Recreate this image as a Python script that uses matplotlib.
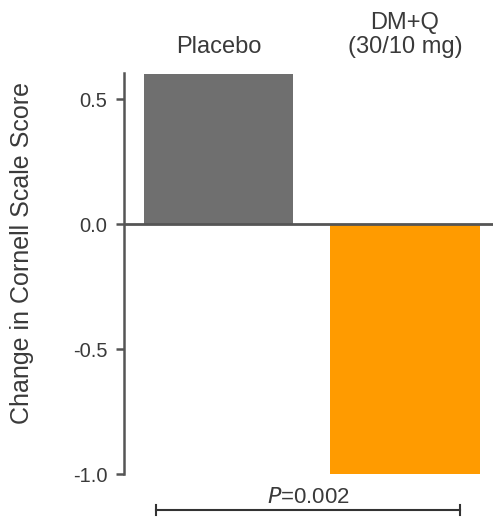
import matplotlib
matplotlib.use("Agg")
import matplotlib.pyplot as plt

categories = ["Placebo", "DM+Q\n(30/10 mg)"]
values = [0.6, -1.0]
colors = ["#6f6f6f", "#ff9b00"]
yticks = [-1.0, -0.5, 0.0, 0.5]
ytick_labels = ["-1.0", "-0.5", "0.0", "0.5"]
ylabel = "Change in Cornell Scale Score"
pval = "0.002"

plt.rcParams['font.family'] = ['Liberation Sans', 'DejaVu Sans']
txt = "#3a3a3a"

fig = plt.figure(figsize=(4.93, 5.21), dpi=100)
ax = fig.add_axes([124/493, 1-474/521, (493-124)/493, (474-73)/521])

x = list(range(len(categories)))
ax.bar(x, values, width=0.8, color=colors, zorder=2)
ax.set_xlim(-0.507, 1.472)
ax.set_ylim(-1.0, 0.604)
ax.axhline(0, color="#555555", lw=2, zorder=3)

for s in ["top", "right", "bottom"]:
    ax.spines[s].set_visible(False)
ax.spines["left"].set_color("#555555")
ax.spines["left"].set_linewidth(1.8)
ax.set_xticks([])
ax.set_yticks(yticks)
ax.set_yticklabels(ytick_labels, fontsize=14.5, color=txt)
ax.tick_params(axis="y", direction="out", length=6, width=1.8, color="#555555", pad=6)
ax.set_ylabel(ylabel, fontsize=18, color=txt)
ax.yaxis.set_label_coords(-0.243, 0.55)

for xi, lab in zip(x, categories):
    ax.text(xi, 0.665, lab, ha="center", va="bottom", fontsize=17, color=txt,
            clip_on=False, linespacing=1.1)

# significance bracket
yb = -1.144
ax.plot([-0.335, 1.295], [yb, yb], color="#333333", lw=1.5, clip_on=False)
for xe in [-0.335, 1.295]:
    ax.plot([xe, xe], [yb - 0.02, yb + 0.02], color="#333333", lw=1.5, clip_on=False)
ax.text(0.48, -1.092, r"$\mathit{P}$" + "=" + pval, ha="center", va="center", fontsize=16,
        color=txt, clip_on=False)

fig.savefig("out.png", dpi=100)
